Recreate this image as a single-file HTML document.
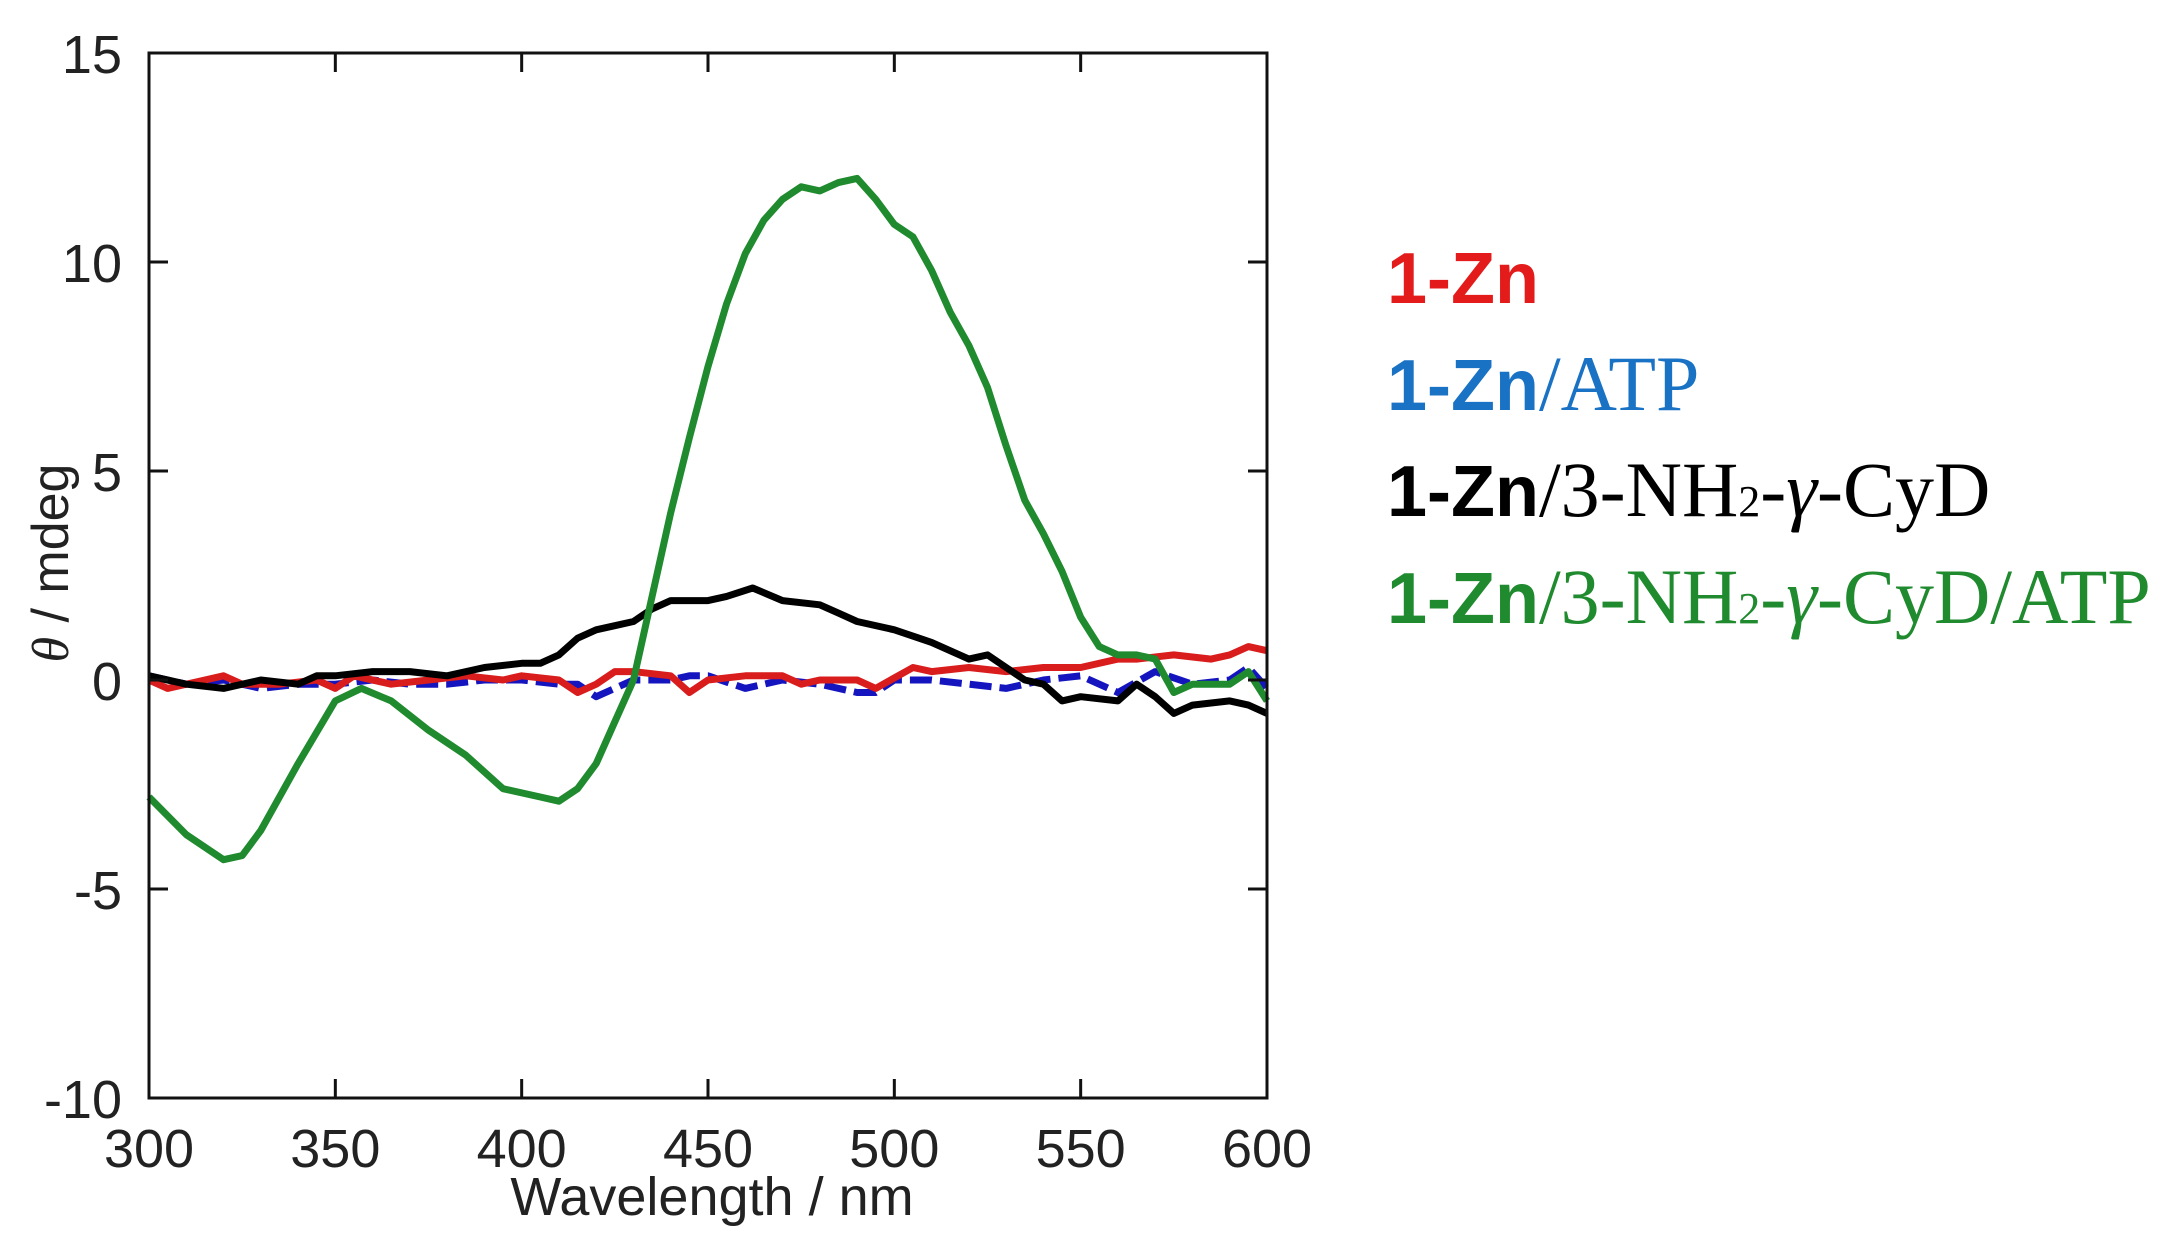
<!DOCTYPE html>
<html><head><meta charset="utf-8"><style>
html,body{margin:0;padding:0;background:#fff;}
svg{display:block;}
</style></head><body>
<svg id="chart" width="2178" height="1242" viewBox="0 0 2178 1242" xmlns="http://www.w3.org/2000/svg">
<rect width="2178" height="1242" fill="#fff"/>
<g id="series"></g>
<g id="axes"></g>
<text x="712" y="1215" font-family="Liberation Sans, sans-serif" font-size="54" text-anchor="middle" fill="#222">Wavelength / nm</text>
<text transform="translate(68,563) rotate(-90)" font-family="Liberation Sans, sans-serif" font-size="52" text-anchor="middle" fill="#222"><tspan font-style="italic" font-family="Liberation Serif, serif">θ</tspan> / mdeg</text>
<g font-size="72">
<text x="1387" y="303" fill="#e31b1b"><tspan font-family="Liberation Sans, sans-serif" font-weight="bold">1-Zn</tspan></text>
<text x="1387" y="410" fill="#1a72c4"><tspan font-family="Liberation Sans, sans-serif" font-weight="bold">1-Zn</tspan><tspan font-family="Liberation Serif, serif" font-size="78">/ATP</tspan></text>
<text x="1387" y="516" fill="#000"><tspan font-family="Liberation Sans, sans-serif" font-weight="bold">1-Zn</tspan><tspan font-family="Liberation Serif, serif" font-size="78">/3-NH</tspan><tspan font-family="Liberation Serif, serif" font-size="44">2</tspan><tspan font-family="Liberation Serif, serif" font-size="78">-<tspan font-style="italic">γ</tspan>-CyD</tspan></text>
<text x="1387" y="623" fill="#1f8a2e"><tspan font-family="Liberation Sans, sans-serif" font-weight="bold">1-Zn</tspan><tspan font-family="Liberation Serif, serif" font-size="78">/3-NH</tspan><tspan font-family="Liberation Serif, serif" font-size="44">2</tspan><tspan font-family="Liberation Serif, serif" font-size="78">-<tspan font-style="italic">γ</tspan>-CyD/ATP</tspan></text>
</g>
</svg>
<script>
const xTicks = [300,350,400,450,500,550,600];
const yTicks = [-10,-5,0,5,10,15];
const greenX = [300,310,320,325,330,340,350,357,365,375,385,395,405,410,415,420,425,430,435,440,445,450,455,460,465,470,475,480,485,490,495,500,505,510,515,520,525,530,535,540,545,550,555,560,565,570,575,580,585,590,595,600];
const greenY = [-2.8,-3.7,-4.3,-4.2,-3.6,-2.0,-0.5,-0.2,-0.5,-1.2,-1.8,-2.6,-2.8,-2.9,-2.6,-2.0,-1.0,0,2,4,5.8,7.5,9,10.2,11,11.5,11.8,11.7,11.9,12.0,11.5,10.9,10.6,9.8,8.8,8,7,5.6,4.3,3.5,2.6,1.5,0.8,0.6,0.6,0.5,-0.3,-0.1,-0.1,-0.1,0.2,-0.5];
const blackX = [300,310,320,330,340,345,350,360,370,380,390,400,405,410,415,420,425,430,435,440,445,450,455,462,470,480,485,490,500,510,520,525,530,535,540,545,550,560,565,570,575,580,590,595,600];
const blackY = [0.1,-0.1,-0.2,0,-0.1,0.1,0.1,0.2,0.2,0.1,0.3,0.4,0.4,0.6,1,1.2,1.3,1.4,1.7,1.9,1.9,1.9,2.0,2.2,1.9,1.8,1.6,1.4,1.2,0.9,0.5,0.6,0.3,0,-0.1,-0.5,-0.4,-0.5,-0.1,-0.4,-0.8,-0.6,-0.5,-0.6,-0.8];
const redX = [300,305,315,320,325,335,345,350,355,365,375,385,395,400,410,415,420,425,430,440,445,450,460,470,475,480,490,495,505,510,520,530,540,550,560,565,575,585,590,595,600];
const redY = [0,-0.2,0,0.1,-0.1,-0.1,0,-0.2,0.1,-0.1,0,0.1,0,0.1,0,-0.3,-0.1,0.2,0.2,0.1,-0.3,0,0.1,0.1,-0.1,0,0,-0.2,0.3,0.2,0.3,0.2,0.3,0.3,0.5,0.5,0.6,0.5,0.6,0.8,0.7];
const blueX = [300,310,320,330,340,350,360,370,380,390,400,410,415,420,425,430,440,445,450,460,470,480,490,495,500,510,520,530,540,550,555,560,570,580,590,595,600];
const blueY = [0.1,-0.1,0,-0.2,-0.1,-0.1,0,-0.1,-0.1,0,0,-0.1,-0.1,-0.4,-0.2,0,0,0.1,0.1,-0.2,0,-0.1,-0.3,-0.3,0,0,-0.1,-0.2,0,0.1,-0.1,-0.3,0.2,-0.1,0,0.3,-0.2];

const X0=149,X1=1267,Y0=1098,Y1=53;
function sx(v){return X0+(v-300)/(600-300)*(X1-X0);}
function sy(v){return Y0-(v+10)/(25)*(Y0-Y1);}
const NS='http://www.w3.org/2000/svg';
const sg=document.getElementById('series');
function line(xs,ys,color,name,dash){
  const p=document.createElementNS(NS,'path');
  
  
  let d='';
  xs.forEach((x,i)=>{d+=(i?'L':'M')+sx(x).toFixed(1)+','+sy(ys[i]).toFixed(1);});
  p.setAttribute('d',d);p.setAttribute('fill','none');p.setAttribute('stroke',color);
  p.setAttribute('stroke-width','7');p.setAttribute('stroke-linejoin','round');
  if(dash)p.setAttribute('stroke-dasharray',dash);
  sg.appendChild(p);
}
line(blueX,blueY,'#1515c0','series-1zn-atp','22,8');
line(redX,redY,'#d91c1c','series-1zn');
line(blackX,blackY,'#000','series-1zn-cyd');
line(greenX,greenY,'#1f8a2e','series-1zn-cyd-atp');

const ax=document.getElementById('axes');
const fr=document.createElementNS(NS,'rect');


fr.setAttribute('x',X0);fr.setAttribute('y',Y1);fr.setAttribute('width',X1-X0);fr.setAttribute('height',Y0-Y1);
fr.setAttribute('fill','none');fr.setAttribute('stroke','#111');fr.setAttribute('stroke-width','3');
ax.appendChild(fr);
function seg(x1,y1,x2,y2,name){
  const l=document.createElementNS(NS,'line');
  
  
  l.setAttribute('x1',x1);l.setAttribute('y1',y1);l.setAttribute('x2',x2);l.setAttribute('y2',y2);
  l.setAttribute('stroke','#111');l.setAttribute('stroke-width','3');ax.appendChild(l);
}
function txt(x,y,s,anchor,name){
  const t=document.createElementNS(NS,'text');
  
  
  t.setAttribute('x',x);t.setAttribute('y',y);t.setAttribute('text-anchor',anchor);
  t.setAttribute('font-family','Liberation Sans, sans-serif');t.setAttribute('font-size','54');t.setAttribute('fill','#222');
  t.textContent=s;ax.appendChild(t);
}
xTicks.forEach(v=>{const x=sx(v);seg(x,Y0,x,Y0-19,'x-tick');seg(x,Y1,x,Y1+19,'x-tick-top');txt(x,1167,String(v),'middle','x-tick-label');});
yTicks.forEach(v=>{const y=sy(v);seg(X0,y,X0+19,y,'y-tick');seg(X1,y,X1-19,y,'y-tick-right');txt(122,y+20,String(v),'end','y-tick-label');});
</script>
</body></html>
